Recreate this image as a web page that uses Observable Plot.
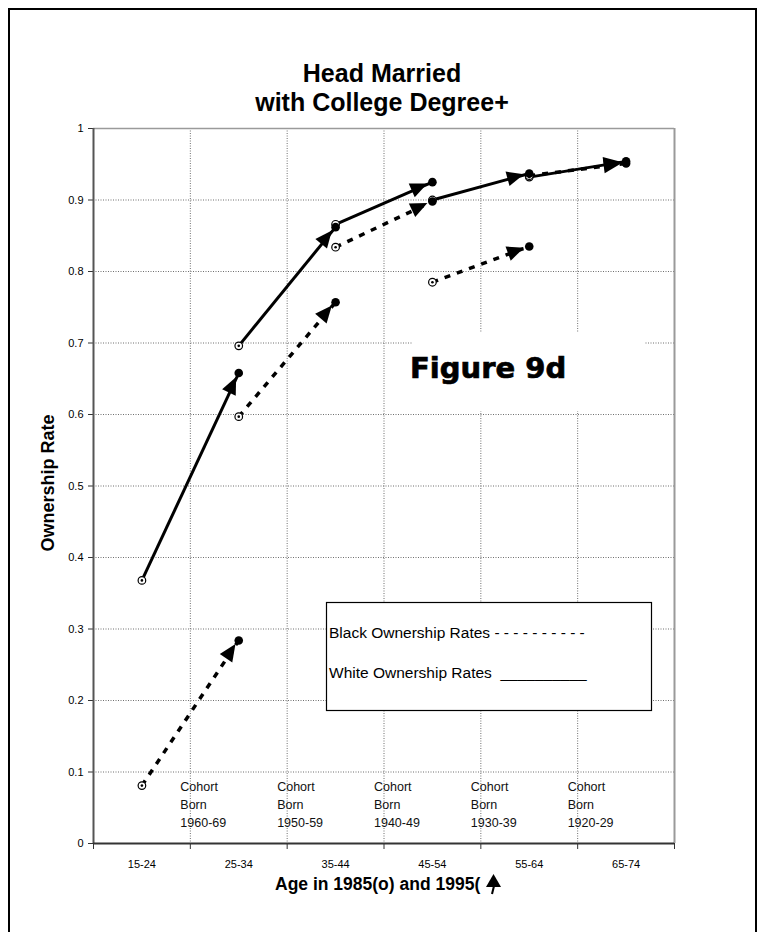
<!DOCTYPE html>
<html>
<head>
<meta charset="utf-8">
<script src="https://cdn.jsdelivr.net/npm/d3@7"></script>
<script src="https://cdn.jsdelivr.net/npm/@observablehq/plot@0.6"></script>
<style>
  body { margin: 0; background: #fff; }
  #wrap { position: relative; width: 762px; height: 932px; overflow: hidden; background: #fff; font-family: "Liberation Sans", Arial, sans-serif; }
  #frame { position: absolute; left: 8px; top: 8px; width: 745px; height: 960px; border: 2px solid #000; pointer-events: none; }
  #chart { position: absolute; left: 0; top: 0; }
  #overlay { position: absolute; left: 0; top: 0; }
</style>
</head>
<body>
<div id="wrap">
  <div id="chart"></div>
  <svg id="overlay" width="762" height="932" font-family="Liberation Sans, Arial, sans-serif">
    <text x="382" y="82" text-anchor="middle" font-size="25" font-weight="bold">Head Married</text>
    <text x="382" y="111" text-anchor="middle" font-size="25" font-weight="bold">with College Degree+</text>
    <rect x="413" y="333" width="231" height="78" fill="#fff"></rect>
    <text x="410" y="378" font-family="DejaVu Sans, sans-serif" font-size="29" font-weight="bold" stroke="#000" stroke-width="0.7">Figure 9d</text>
    <rect x="326.5" y="602.5" width="325" height="108" fill="#fff" stroke="#000" stroke-width="1.2"></rect>
    <text x="329" y="638" font-size="15.5" style="white-space:pre">Black Ownership Rates - - - - - - - - - -</text>
    <text x="329" y="678" font-size="15.5" style="white-space:pre">White Ownership Rates  __________</text>
    <text x="54" y="483" transform="rotate(-90 54 483)" text-anchor="middle" font-size="18" font-weight="bold">Ownership Rate</text>
    <text x="275" y="890" font-size="17.5" font-weight="bold">Age in 1985(o) and 1995(</text>
    <path d="M493.5,874 L501,887 L486,887 Z" fill="#000"></path>
    <path d="M494,886 Q493,890 492,894" stroke="#000" stroke-width="2" fill="none"></path>
  </svg>
  <div id="frame"></div>
</div>
<script>
// ---- data ----
const ages = ["15-24", "25-34", "35-44", "45-54", "55-64", "65-74"];
const white1985 = [0.368, 0.696, 0.866, 0.900, 0.932, null];
const white1995 = [null, 0.658, 0.862, 0.925, 0.937, 0.954];
const black1985 = [0.081, 0.597, 0.834, 0.785, 0.934, null];
const black1995 = [null, 0.284, 0.757, 0.898, 0.835, 0.951];
const cohorts = ["1960-69", "1950-59", "1940-49", "1930-39", "1920-29"];
const yTicks = [0, 0.1, 0.2, 0.3, 0.4, 0.5, 0.6, 0.7, 0.8, 0.9, 1];

// ---- derived tables ----
const idx = ages.map((_, i) => i);
const bounds = [-0.5, ...idx.map(i => i + 0.5)];
const segs = [];
for (let i = 0; i < ages.length - 1; i++) {
  if (white1985[i] != null && white1995[i + 1] != null)
    segs.push({race: "White", x1: i, y1: white1985[i], x2: i + 1, y2: white1995[i + 1]});
  if (black1985[i] != null && black1995[i + 1] != null)
    segs.push({race: "Black", x1: i, y1: black1985[i], x2: i + 1, y2: black1995[i + 1]});
}
const pts85 = [], pts95 = [];
idx.forEach(i => {
  if (white1985[i] != null) pts85.push({x: i, y: white1985[i]});
  if (black1985[i] != null) pts85.push({x: i, y: black1985[i]});
  if (white1995[i] != null) pts95.push({x: i, y: white1995[i]});
  if (black1995[i] != null) pts95.push({x: i, y: black1995[i]});
});

function arrowHeads(data) {
  return (index, scales) => {
    const g = d3.create("svg:g").attr("fill", "#000");
    for (const i of index) {
      const d = data[i];
      const x1 = scales.x(d.x1), y1 = scales.y(d.y1), x2 = scales.x(d.x2), y2 = scales.y(d.y2);
      const dx = x2 - x1, dy = y2 - y1, len = Math.hypot(dx, dy);
      const ux = dx / len, uy = dy / len;
      const tx = x2 - ux * 5, ty = y2 - uy * 5;
      const L = 17, W = 7.5;
      const bx = tx - ux * L, by = ty - uy * L;
      g.append("path").attr("d",
        `M${tx},${ty}L${bx - uy * W},${by + ux * W}L${bx + uy * W},${by - ux * W}Z`);
    }
    return g.node();
  };
}

const fmt = d => String(+d.toFixed(1));

const chart = Plot.plot({
  width: 762,
  height: 932,
  marginLeft: 93,
  marginRight: 88,
  marginTop: 128,
  marginBottom: 89,
  x: {domain: [-0.5, 5.5]},
  y: {domain: [0, 1]},
  style: {fontFamily: "Liberation Sans, Arial, sans-serif", fontSize: "11px", color: "#000", background: "transparent"},
  marks: [
    Plot.gridY(yTicks.slice(1, -1), {stroke: "#6f6f6f", strokeOpacity: 1, strokeDasharray: "1,1.5"}),
    Plot.gridX(bounds.slice(1, -1), {stroke: "#6f6f6f", strokeOpacity: 1, strokeDasharray: "1,1.5"}),
    Plot.ruleY([1], {stroke: "#9a9a9a", strokeWidth: 1.5}),
    Plot.ruleX([5.5], {stroke: "#9a9a9a", strokeWidth: 2}),
    Plot.axisY(yTicks, {tickSize: 5, tickPadding: 5, tickFormat: fmt, label: null, stroke: "#333"}),
    Plot.axisX(idx, {tickSize: 0, tickPadding: 17, tickFormat: i => ages[i], label: null}),
    Plot.axisX(bounds, {tickSize: 6, tickFormat: () => "", label: null, stroke: "#333"}),
    Plot.text(cohorts, {
      x: (d, i) => i + 0.5, frameAnchor: "bottom", lineAnchor: "bottom", dy: -17, dx: -10,
      text: d => `Cohort\nBorn\n${d}`, textAnchor: "start", lineHeight: 1.42, fontSize: 12.5, fill: "#111"
    }),
    Plot.link(segs.filter(d => d.race === "White"), {
      x1: "x1", y1: "y1", x2: "x2", y2: "y2", stroke: "#000", strokeWidth: 3
    }),
    Plot.link(segs.filter(d => d.race === "Black"), {
      x1: "x1", y1: "y1", x2: "x2", y2: "y2", stroke: "#000", strokeWidth: 3.5, strokeDasharray: "6,7"
    }),
    Plot.dot(pts85, {x: "x", y: "y", r: 3.8, fill: "#fff", stroke: "#000", strokeWidth: 1.2}),
    Plot.dot(pts85, {x: "x", y: "y", r: 1.3, fill: "#000"}),
    Plot.dot(pts95, {x: "x", y: "y", r: 4.3, fill: "#000"}),
    Plot.dot(segs, {x: "x2", y: "y2", render: arrowHeads(segs)}),
    Plot.ruleX([-0.5], {stroke: "#555", strokeWidth: 2}),
    Plot.ruleY([0], {stroke: "#333", strokeWidth: 2})
  ]
});
document.getElementById("chart").appendChild(chart);
</script>
</body>
</html>
